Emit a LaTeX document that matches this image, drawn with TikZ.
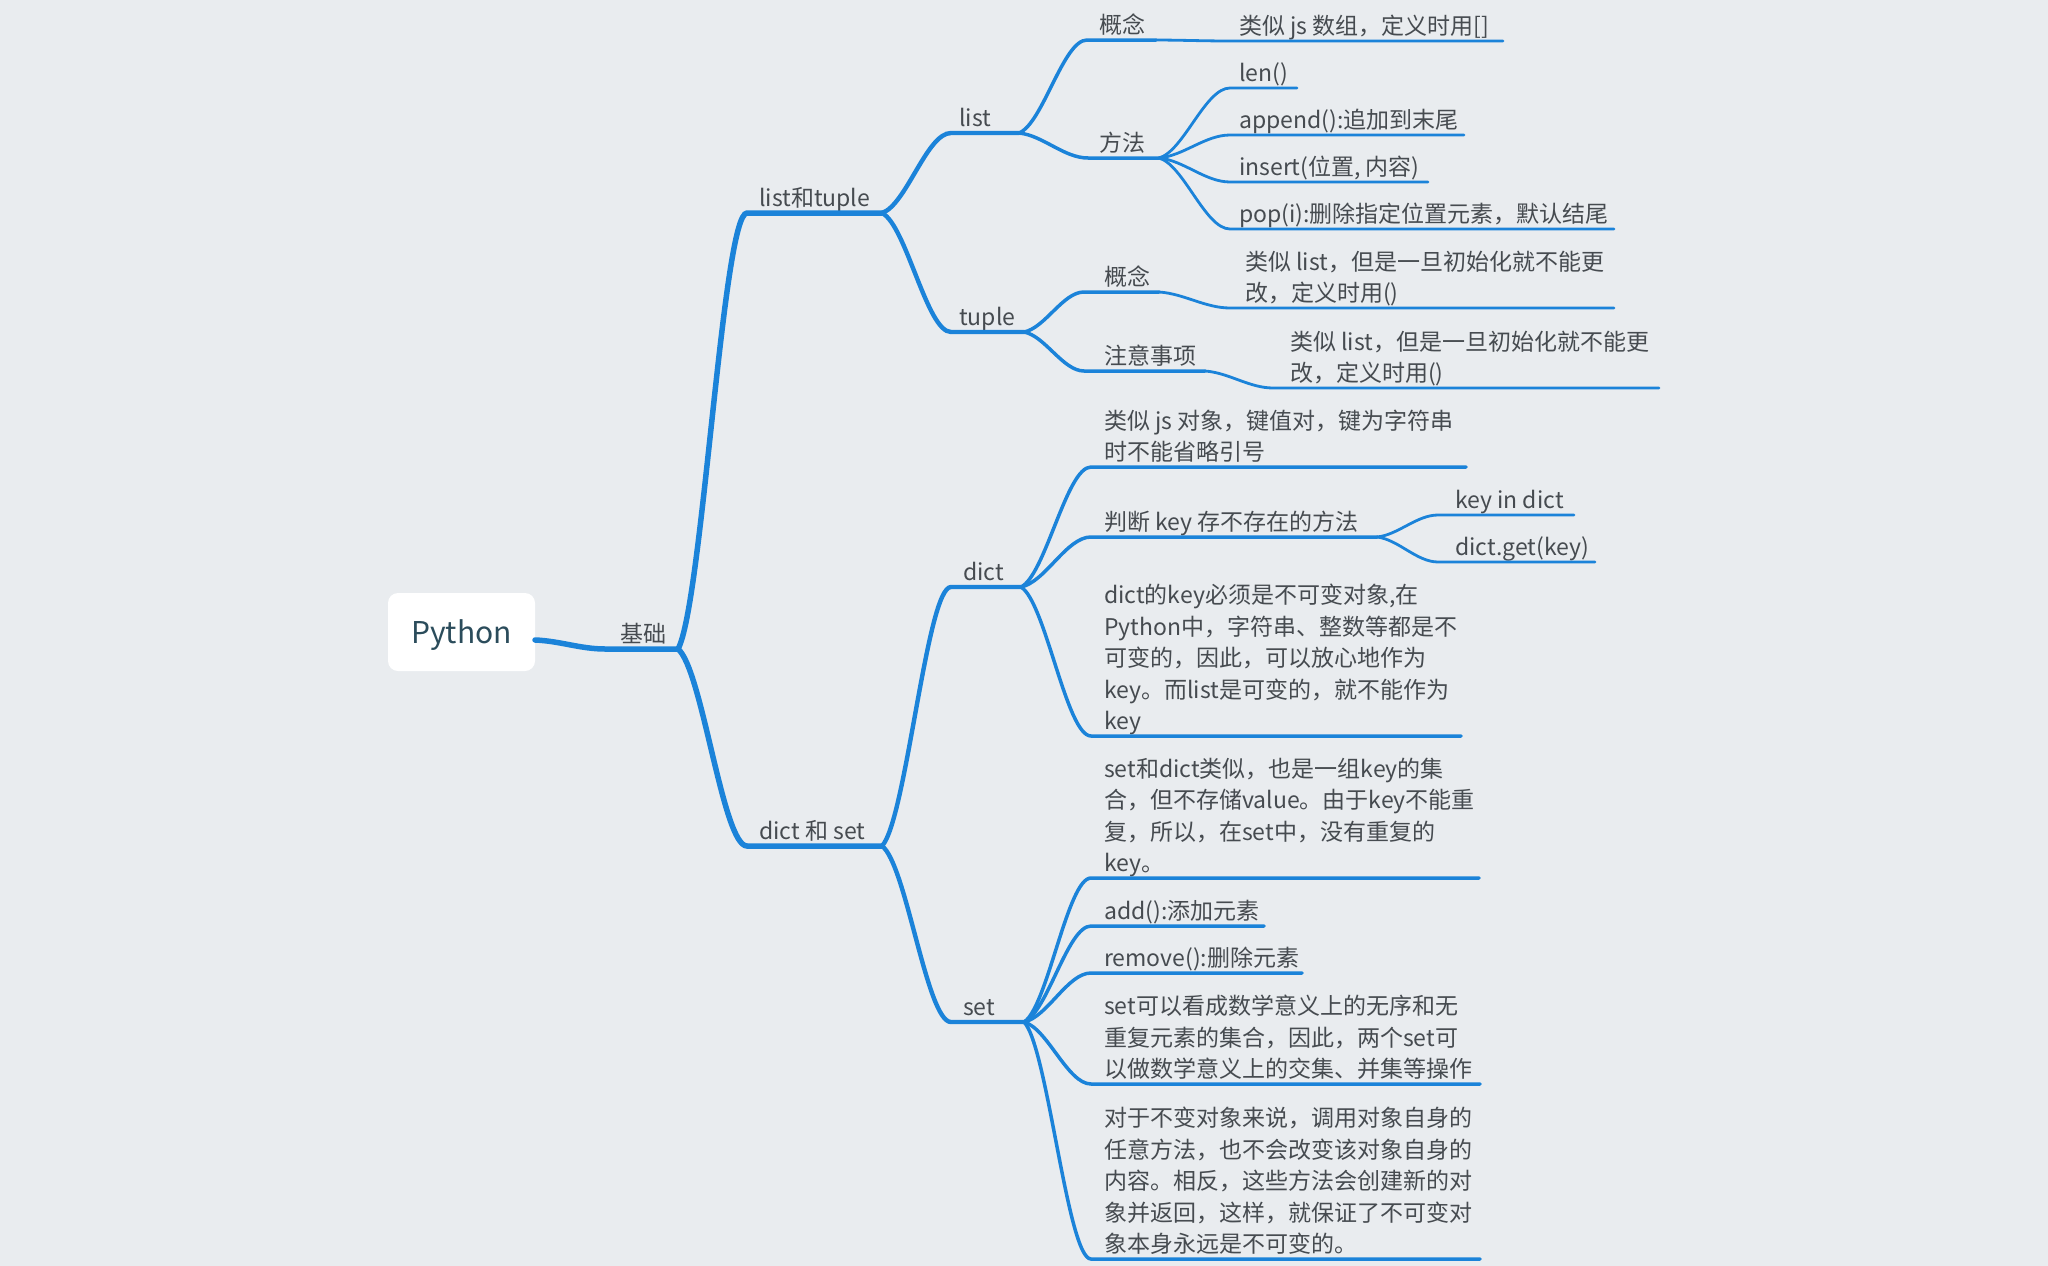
\documentclass[tikz,border=0pt]{standalone}
\usepackage{fontspec}
\setmainfont{Noto Sans CJK SC}
\usetikzlibrary{calc}
\definecolor{bgcol}{HTML}{E9ECEF}
\definecolor{lnblue}{HTML}{1B83D9}
\definecolor{txtgray}{HTML}{464B50}
\definecolor{pyteal}{HTML}{2B4C5B}
\begin{document}
\begin{tikzpicture}[x=1pt, y=-1pt,
  curv/.style={to path={let \p1=(\tikztostart), \p2=(\tikztotarget) in
    .. controls ({\x1+0.35*(\x2-\x1)}, {\y1+0.1*(\y2-\y1)}) and ({\x1+0.65*(\x2-\x1)}, \y2) .. (\tikztotarget)}},
  lv1/.style={draw=lnblue, line width=5.5pt, line cap=round},
  lv2/.style={draw=lnblue, line width=4.4pt, line cap=round},
  lv3/.style={draw=lnblue, line width=3.5pt, line cap=round},
  lv4/.style={draw=lnblue, line width=2.8pt, line cap=round},
  txt/.style={anchor=south west, inner sep=0pt, text depth=0pt, align=left, yshift=-2pt, text=txtgray, font=\fontsize{23}{31.6}\selectfont},
  pybox/.style={fill=white, rounded corners=10pt, minimum width=147pt, minimum height=78pt, inner sep=0pt, text height=26pt, text depth=4pt, text=pyteal, font=\fontsize{30}{36}\selectfont}]
\fill[bgcol] (0,0) rectangle (2048,1266);
\useasboundingbox (0,0) rectangle (2048,1266);
% root
\node[pybox] (py) at (461.5,632) {Python};
\coordinate (py-o) at (535,640);
\coordinate (jc-s) at (605,649); \coordinate (jc) at (678,649);
\node[txt] (jc-t) at (620,641) {基础};
\draw[lv1] (py-o) to[curv] (jc-s) -- (jc);
% list和tuple
\coordinate (lt-s) at (747,213); \coordinate (lt) at (882,213);
\node[txt] (lt-t) at (759,205) {list和tuple};
\draw[lv1] (jc) to[curv] (lt-s) -- (lt);
\coordinate (li-s) at (951,133); \coordinate (li) at (1019,133);
\node[txt] (li-t) at (959,125) {list};
\draw[lv2] (lt) to[curv] (li-s) -- (li);
\coordinate (tp-s) at (951,332); \coordinate (tp) at (1024,332);
\node[txt] (tp-t) at (959,324) {tuple};
\draw[lv2] (lt) to[curv] (tp-s) -- (tp);
% list
\coordinate (lg-s) at (1087,40); \coordinate (lg) at (1156,40);
\node[txt] (lg-t) at (1099,32) {概念};
\draw[lv3] (li) to[curv] (lg-s) -- (lg);
\coordinate (lg1-s) at (1230,41); \coordinate (lg1) at (1503,41);
\node[txt] (lg1-t) at (1239,33) {类似 js 数组，定义时用[]};
\draw[lv4] (lg) to[curv] (lg1-s) -- (lg1);
\coordinate (lf-s) at (1088,158); \coordinate (lf) at (1159,158);
\node[txt] (lf-t) at (1099,150) {方法};
\draw[lv3] (li) to[curv] (lf-s) -- (lf);
\coordinate (lf1-s) at (1230,88); \coordinate (lf1) at (1297,88);
\node[txt] (lf1-t) at (1239,80) {len()};
\draw[lv4] (lf) to[curv] (lf1-s) -- (lf1);
\coordinate (lf2-s) at (1230,135); \coordinate (lf2) at (1464,135);
\node[txt] (lf2-t) at (1239,127) {append():追加到末尾};
\draw[lv4] (lf) to[curv] (lf2-s) -- (lf2);
\coordinate (lf3-s) at (1230,182); \coordinate (lf3) at (1428,182);
\node[txt] (lf3-t) at (1239,174) {insert(位置, 内容)};
\draw[lv4] (lf) to[curv] (lf3-s) -- (lf3);
\coordinate (lf4-s) at (1230,229); \coordinate (lf4) at (1614,229);
\node[txt] (lf4-t) at (1239,221) {pop(i):删除指定位置元素，默认结尾};
\draw[lv4] (lf) to[curv] (lf4-s) -- (lf4);
% tuple
\coordinate (tg-s) at (1084,292); \coordinate (tg) at (1159,292);
\node[txt] (tg-t) at (1104,284) {概念};
\draw[lv3] (tp) to[curv] (tg-s) -- (tg);
\coordinate (tg1-s) at (1230,308); \coordinate (tg1) at (1614,308);
\node[txt] (tg1-t) at (1245,300) {类似 list，但是一旦初始化就不能更\\改，定义时用()};
\draw[lv4] (tg) to[curv] (tg1-s) -- (tg1);
\coordinate (tz-s) at (1084,371); \coordinate (tz) at (1205,371);
\node[txt] (tz-t) at (1104,363) {注意事项};
\draw[lv3] (tp) to[curv] (tz-s) -- (tz);
\coordinate (tz1-s) at (1273,388); \coordinate (tz1) at (1659,388);
\node[txt] (tz1-t) at (1290,380) {类似 list，但是一旦初始化就不能更\\改，定义时用()};
\draw[lv4] (tz) to[curv] (tz1-s) -- (tz1);
% dict 和 set
\coordinate (ds-s) at (747,846); \coordinate (ds) at (882,846);
\node[txt] (ds-t) at (759,838) {dict 和 set};
\draw[lv1] (jc) to[curv] (ds-s) -- (ds);
\coordinate (dc-s) at (951,587); \coordinate (dc) at (1021,587);
\node[txt] (dc-t) at (963,579) {dict};
\draw[lv2] (ds) to[curv] (dc-s) -- (dc);
\coordinate (st-s) at (951,1022); \coordinate (st) at (1024,1022);
\node[txt] (st-t) at (963,1014) {set};
\draw[lv2] (ds) to[curv] (st-s) -- (st);
% dict
\coordinate (d1-s) at (1091,467); \coordinate (d1) at (1466,467);
\node[txt] (d1-t) at (1104,459) {类似 js 对象，键值对，键为字符串\\时不能省略引号};
\draw[lv3] (dc) to[curv] (d1-s) -- (d1);
\coordinate (d2-s) at (1091,537); \coordinate (d2) at (1377,537);
\node[txt] (d2-t) at (1104,529) {判断 key 存不存在的方法};
\draw[lv3] (dc) to[curv] (d2-s) -- (d2);
\coordinate (d2a-s) at (1438,515); \coordinate (d2a) at (1574,515);
\node[txt] (d2a-t) at (1455,507) {key in dict};
\draw[lv4] (d2) to[curv] (d2a-s) -- (d2a);
\coordinate (d2b-s) at (1438,562); \coordinate (d2b) at (1595,562);
\node[txt] (d2b-t) at (1455,554) {dict.get(key)};
\draw[lv4] (d2) to[curv] (d2b-s) -- (d2b);
\coordinate (d3-s) at (1091,736); \coordinate (d3) at (1461,736);
\node[txt] (d3-t) at (1104,728) {dict的key必须是不可变对象,在\\Python中，字符串、整数等都是不\\可变的，因此，可以放心地作为\\key。而list是可变的，就不能作为\\key};
\draw[lv3] (dc) to[curv] (d3-s) -- (d3);
% set
\coordinate (s1-s) at (1091,878); \coordinate (s1) at (1479,878);
\node[txt] (s1-t) at (1104,870) {set和dict类似，也是一组key的集\\合，但不存储value。由于key不能重\\复，所以，在set中，没有重复的\\key。};
\draw[lv3] (st) to[curv] (s1-s) -- (s1);
\coordinate (s2-s) at (1091,926); \coordinate (s2) at (1264,926);
\node[txt] (s2-t) at (1104,918) {add():添加元素};
\draw[lv3] (st) to[curv] (s2-s) -- (s2);
\coordinate (s3-s) at (1091,973); \coordinate (s3) at (1302,973);
\node[txt] (s3-t) at (1104,965) {remove():删除元素};
\draw[lv3] (st) to[curv] (s3-s) -- (s3);
\coordinate (s4-s) at (1091,1084); \coordinate (s4) at (1480,1084);
\node[txt] (s4-t) at (1104,1076) {set可以看成数学意义上的无序和无\\重复元素的集合，因此，两个set可\\以做数学意义上的交集、并集等操作};
\draw[lv3] (st) to[curv] (s4-s) -- (s4);
\coordinate (s5-s) at (1091,1259); \coordinate (s5) at (1480,1259);
\node[txt] (s5-t) at (1104,1251) {对于不变对象来说，调用对象自身的\\任意方法，也不会改变该对象自身的\\内容。相反，这些方法会创建新的对\\象并返回，这样，就保证了不可变对\\象本身永远是不可变的。};
\draw[lv3] (st) to[curv] (s5-s) -- (s5);
\end{tikzpicture}
\end{document}
